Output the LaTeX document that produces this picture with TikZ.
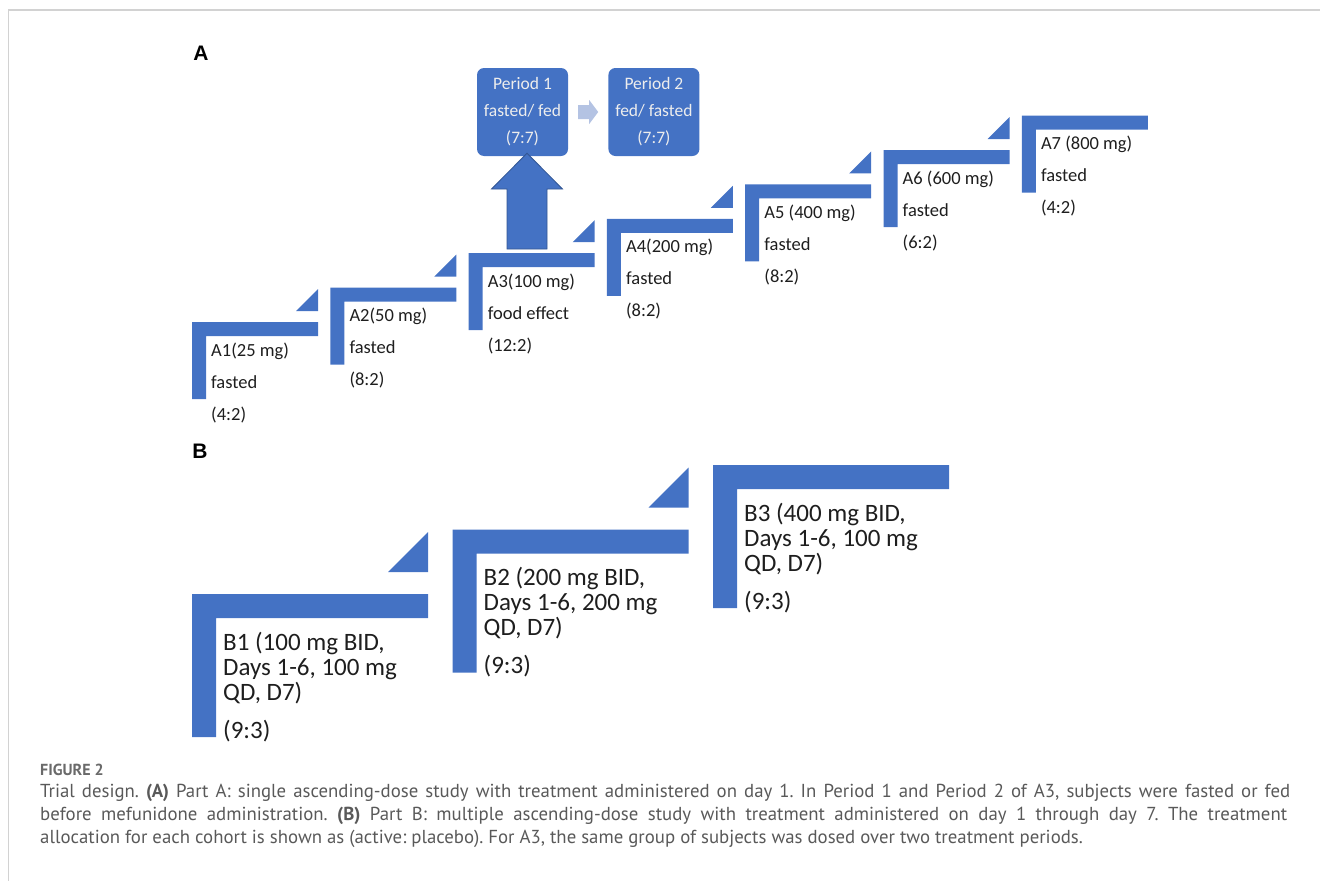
\documentclass[tikz,border=0pt]{standalone}
\usepackage{fontspec}
\setmainfont{Carlito}
\newfontfamily\labelfont{Liberation Sans}
\newfontfamily\capfont{PT Sans}
\usetikzlibrary{calc}
\usetikzlibrary{positioning}
\definecolor{stepblue}{HTML}{4472C4}
\definecolor{paleblue}{HTML}{B4C3E3}
\definecolor{inkgray}{HTML}{1E1E1E}
\definecolor{capgray}{HTML}{595959}
\definecolor{framegray}{HTML}{D2D2D2}
\frenchspacing
% L-shaped step: #1 = width, #2 = height, #3 = bar thickness
\newcommand{\stepbar}[3] {
\fill[stepblue] (0,0) -- (#1,0) -- (#1,#3) -- (#3,#3) -- (#3,#2) -- (0,#2) -- cycle;
}
% wedge above the right end: #1 = width, #2 = gap, #3 = size
\newcommand{\stepwedge}[3] {
\fill[stepblue] (#1,-#2) -- (#1-#3,-#2) -- (#1,-#2-#3) -- cycle;
}

\begin{document}
\begin{tikzpicture}[x=1pt, y=-1pt,
    steptext/.style={font=\fontsize{18.5}{20}\selectfont, text=inkgray, anchor=base west, inner sep=0pt},
    bigtext/.style={font=\fontsize{25}{27}\selectfont, text=inkgray, anchor=base west, inner sep=0pt},
    periodbox/.style={fill=stepblue, rounded corners=7pt, minimum width=91pt, minimum height=88pt,
      inner sep=0pt, align=center, text=white!93!black, font=\fontsize{17.5}{27}\selectfont},
    panel/.style={font=\labelfont\bfseries\fontsize{21}{21}\selectfont, inner sep=0pt},
    capline/.style={font=\capfont\fontsize{18.8}{20}\selectfont, text=capgray, inner sep=0pt, anchor=base west}]
  \useasboundingbox (0,0) rectangle (1320,881);
  \draw[framegray, line width=2pt] (8,10) -- (1320,10);
  \draw[framegray, line width=1pt] (8,10) -- (8,881);

  \node[panel] (labA) at (201,53) {A};
  \node[panel] (labB) at (200,451) {B};

  % part A: single doses
  \foreach \i/\dose/\cond/\alloc in {1/{A1(25 mg)}/fasted/{(4:2)}, 2/{A2(50 mg)}/fasted/{(8:2)},
      3/{A3(100 mg)}/{food effect}/{(12:2)}, 4/{A4(200 mg)}/fasted/{(8:2)},
      5/{A5 (400 mg)}/fasted/{(8:2)}, 6/{A6 (600 mg)}/fasted/{(6:2)}, 7/{A7 (800 mg)}/fasted/{(4:2)}} {
    \begin{scope}[shift={({192+138.3*(\i-1)},{322-34.4*(\i-1)})}]
      \stepbar{126}{77}{14}
      \ifnum\i<7 \stepwedge{126}{11}{22}\fi
      \node[steptext] (a\i-dose) at (19,34) {\dose};
      \node[steptext] (a\i-cond) at (19,66) {\cond};
      \node[steptext] (a\i-alloc) at (19,98) {\alloc};
    \end{scope}
  }

  % A3 food effect periods
  \node[periodbox] (per1) at (522.5,112) {Period 1\\fasted/ fed\\(7:7)};
  \node[periodbox, right=40pt of per1] (per2) {Period 2\\fed/ fasted\\(7:7)};
  \coordinate (upfoot) at (527,249);
  \coordinate (uptip) at ($(per1.south)+(4.5,-3)$);
  \filldraw[fill=stepblue, draw=stepblue!75!black, line width=0.8pt]
    ($(upfoot)+(-20,0)$) -- ($(upfoot)+(20,0)$) -- ($(upfoot)+(20,-60)$) -- ($(upfoot)+(35.5,-60)$)
    -- (uptip) -- ($(upfoot)+(-35.5,-60)$) -- ($(upfoot)+(-20,-60)$) -- cycle;
  \path (per1.east) ++(10,0) coordinate (pa0);
  \fill[paleblue] ($(pa0)+(0,-7)$) -- ++(11,0) -- ++(0,-5) -- ($(per2.west)+(-10,0)$)
    -- ($(pa0)+(11,12)$) -- ++(0,-5) -- ($(pa0)+(0,7)$) -- cycle;

  % part B: multiple doses
  \foreach \i/\ta/\tb/\tc in {1/{B1 (100 mg BID,}/{Days 1-6, 100 mg}/{QD, D7)},
      2/{B2 (200 mg BID,}/{Days 1-6, 200 mg}/{QD, D7)}, 3/{B3 (400 mg BID,}/{Days 1-6, 100 mg}/{QD, D7)}} {
    \begin{scope}[shift={({192+260.5*(\i-1)},{594-64.5*(\i-1)})}]
      \stepbar{236}{143}{24}
      \ifnum\i<3 \stepwedge{236}{22}{40}\fi
      \node[bigtext] (b\i-l1) at (31,56) {\ta};
      \node[bigtext] (b\i-l2) at (31,81) {\tb};
      \node[bigtext] (b\i-l3) at (31,106) {\tc};
      \node[bigtext] (b\i-alloc) at (31,144) {(9:3)};
    \end{scope}
  }

  % caption
  \node[capline, font=\capfont\bfseries\fontsize{16}{18}\selectfont, text=capgray!90] (fig) at (40,775) {FIGURE 2};
  \node[capline] (cap1) at (40,797) {\hbox to 1250pt{Trial design. \textbf{(A)} Part A: single ascending-dose study with treatment administered on day 1. In Period 1 and Period 2 of A3, subjects were fasted or fed}};
  \node[capline] (cap2) at (40,820) {\hbox to 1247pt{before mefunidone administration. \textbf{(B)} Part B: multiple ascending-dose study with treatment administered on day 1 through day 7. The treatment}};
  \node[capline] (cap3) at (40,843) {allocation for each cohort is shown as (active: placebo). For A3, the same group of subjects was dosed over two treatment periods.};
\end{tikzpicture}
\end{document}
